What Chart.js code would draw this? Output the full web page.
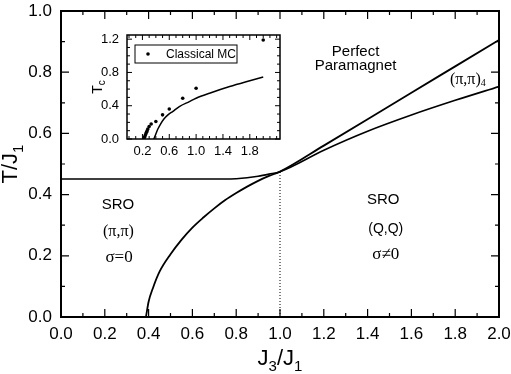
<!DOCTYPE html>
<html><head><meta charset="utf-8">
<script src="https://cdn.jsdelivr.net/npm/chart.js@4"></script>
<style>
html,body{margin:0;padding:0;background:#fff;}
#wrap{position:relative;width:511px;height:374px;overflow:hidden;}
#main{position:absolute;left:0;top:0;}
#inset{position:absolute;left:88px;top:20px;}
</style></head><body>
<div id="wrap"><canvas id="main" width="511" height="374"></canvas><canvas id="inset" width="200" height="140"></canvas></div>
<script>
const SANS = '"Liberation Sans", Arial, Helvetica, sans-serif';
const SERIF = '"Liberation Serif", "Times New Roman", serif';

// ---- main chart data ----
const X_TICKS = [0, 0.2, 0.4, 0.6, 0.8, 1.0, 1.2, 1.4, 1.6, 1.8, 2.0];
const X_MINOR = [0.1, 0.3, 0.5, 0.7, 0.9, 1.1, 1.3, 1.5, 1.7, 1.9];
const Y_TICKS = [0, 0.2, 0.4, 0.6, 0.8, 1.0];
const Y_MINOR = [0.1, 0.3, 0.5, 0.7, 0.9];

// flat SRO boundary, then lower branch above J3/J1 = 1
const flatX = [0, 0.2, 0.4, 0.6, 0.7, 0.75, 0.8, 0.85, 0.9, 0.95, 1.0, 1.2, 1.4, 1.6, 1.8, 2.0];
const flatY = [0.451, 0.451, 0.451, 0.451, 0.451, 0.451, 0.452, 0.455, 0.46, 0.467, 0.475, 0.545, 0.607, 0.66, 0.708, 0.753];
// steep boundary from T=0, then upper branch
const steepX = [0.388, 0.40, 0.42, 0.45, 0.50, 0.55, 0.60, 0.65, 0.70, 0.75, 0.80, 0.85, 0.90, 0.95, 1.0, 1.2, 1.4, 1.6, 1.8, 2.0];
const steepY = [0, 0.05, 0.095, 0.148, 0.205, 0.252, 0.292, 0.325, 0.355, 0.382, 0.405, 0.426, 0.445, 0.461, 0.475, 0.56, 0.646, 0.733, 0.819, 0.905];
// dotted vertical guide
const guideX = [1.0, 1.0];
const guideY = [0, 0.475];

// ---- inset data ----
const IN_X_TICKS = [0.2, 0.6, 1.0, 1.4, 1.8];
const IN_X_MINOR = [0, 0.1, 0.3, 0.4, 0.5, 0.7, 0.8, 0.9, 1.1, 1.2, 1.3, 1.5, 1.6, 1.7, 1.9, 2.0, 2.1, 2.2];
const IN_Y_TICKS = [0, 0.4, 0.8, 1.2];
const IN_Y_MINOR = [0.1, 0.2, 0.3, 0.5, 0.6, 0.7, 0.9, 1.0, 1.1];
const mcX = [0.22, 0.23, 0.24, 0.25, 0.26, 0.27, 0.28, 0.30, 0.33, 0.40, 0.50, 0.60, 0.80, 1.00, 2.00];
const mcY = [0.00, 0.02, 0.04, 0.06, 0.08, 0.10, 0.12, 0.15, 0.18, 0.21, 0.29, 0.36, 0.49, 0.61, 1.19];
const tcX = [0.37, 0.40, 0.43, 0.47, 0.52, 0.58, 0.65, 0.75, 0.9, 1.0, 1.2, 1.5, 1.8, 2.0];
const tcY = [0, 0.06, 0.12, 0.18, 0.24, 0.29, 0.33, 0.39, 0.45, 0.49, 0.55, 0.63, 0.70, 0.745];

const pts = (xs, ys) => xs.map((x, i) => ({x, y: ys[i]}));

function richText(ctx, parts, x, y, align, baseline) {
  ctx.textBaseline = baseline || 'middle';
  ctx.textAlign = 'left';
  let w = 0;
  parts.forEach(p => { ctx.font = p.font; p.w = ctx.measureText(p.t).width; w += p.w; });
  let cx = align === 'center' ? x - w / 2 : (align === 'right' ? x - w : x);
  parts.forEach(p => { ctx.font = p.font; ctx.fillText(p.t, cx, y + (p.dy || 0)); cx += p.w; });
}

function drawTicks(ctx, a, xs, ys, vals, len, isX) {
  vals.forEach(v => {
    if (isX) {
      const px = xs.getPixelForValue(v);
      ctx.moveTo(px, a.bottom); ctx.lineTo(px, a.bottom - len);
      ctx.moveTo(px, a.top); ctx.lineTo(px, a.top + len);
    } else {
      const py = ys.getPixelForValue(v);
      ctx.moveTo(a.left, py); ctx.lineTo(a.left + len, py);
      ctx.moveTo(a.right, py); ctx.lineTo(a.right - len, py);
    }
  });
}

const fitX = h => s => { s.height = h; s.paddingLeft = 0; s.paddingRight = 0; };
const fitY = w => s => { s.width = w; s.paddingTop = 0; s.paddingBottom = 0; };

const mainPlugin = {
  id: 'mainDecor',
  afterDraw(chart) {
    const {ctx, chartArea: a, scales: {x, y}} = chart;
    ctx.save();
    ctx.strokeStyle = '#000';
    ctx.fillStyle = '#000';
    ctx.lineWidth = 2;
    ctx.strokeRect(a.left, a.top, a.right - a.left, a.bottom - a.top);
    ctx.lineWidth = 1.2;
    ctx.beginPath();
    drawTicks(ctx, a, x, y, X_TICKS, 8, true);
    drawTicks(ctx, a, x, y, X_MINOR, 4, true);
    drawTicks(ctx, a, x, y, Y_TICKS, 8, false);
    drawTicks(ctx, a, x, y, Y_MINOR, 4, false);
    ctx.stroke();

    const P = (vx, vy) => [x.getPixelForValue(vx), y.getPixelForValue(vy)];
    const f15 = '15px ' + SANS, f14 = '14px ' + SANS, s16 = '16px ' + SERIF, s17 = '17px ' + SERIF;
    let p;
    p = P(1.345, 0.866); richText(ctx, [{t: 'Perfect', font: f15}], p[0], p[1], 'center');
    p = P(1.345, 0.822); richText(ctx, [{t: 'Paramagnet', font: f15}], p[0], p[1], 'center');
    p = P(1.776, 0.775); richText(ctx, [{t: '(\u03c0,\u03c0)', font: s16}, {t: '4', font: '10px ' + SERIF, dy: 4}], p[0], p[1], 'left');
    p = P(0.26, 0.366); richText(ctx, [{t: 'SRO', font: f15}], p[0], p[1], 'center');
    p = P(0.262, 0.279); richText(ctx, [{t: '(\u03c0,\u03c0)', font: s16}], p[0], p[1], 'center');
    p = P(0.265, 0.193); richText(ctx, [{t: '\u03c3=0', font: s17}], p[0], p[1], 'center');
    p = P(1.471, 0.382); richText(ctx, [{t: 'SRO', font: f15}], p[0], p[1], 'center');
    p = P(1.483, 0.288); richText(ctx, [{t: '(Q,Q)', font: f14}], p[0], p[1], 'center');
    p = P(1.483, 0.204); richText(ctx, [{t: '\u03c3\u22600', font: s17}], p[0], p[1], 'center');

    // axis titles
    const t22 = '22px ' + SANS, t15 = '15px ' + SANS;
    richText(ctx, [{t: 'J', font: t22}, {t: '3', font: t15, dy: 6}, {t: '/J', font: t22}, {t: '1', font: t15, dy: 6}],
      (a.left + a.right) / 2, 365, 'center', 'alphabetic');
    ctx.translate(17, (a.top + a.bottom) / 2);
    ctx.rotate(-Math.PI / 2);
    richText(ctx, [{t: 'T/J', font: t22}, {t: '1', font: t15, dy: 6}], 0, 0, 'center', 'alphabetic');
    ctx.restore();
  }
};

new Chart(document.getElementById('main'), {
  type: 'scatter',
  data: {
    datasets: [
      {data: pts(flatX, flatY), showLine: true, borderColor: '#000', borderWidth: 1.6, pointRadius: 0, cubicInterpolationMode: 'monotone', fill: false},
      {data: pts(steepX, steepY), showLine: true, borderColor: '#000', borderWidth: 1.8, pointRadius: 0, cubicInterpolationMode: 'monotone', fill: false},
      {data: pts(guideX, guideY), showLine: true, borderColor: '#000', borderWidth: 1, borderDash: [1, 2], pointRadius: 0, fill: false}
    ]
  },
  options: {
    responsive: false, animation: false, devicePixelRatio: 1,
    layout: {padding: {top: 11, right: 12, left: 0, bottom: 0}},
    plugins: {legend: {display: false}, tooltip: {enabled: false}},
    scales: {
      x: {
        type: 'linear', min: 0, max: 2.0,
        afterBuildTicks: s => { s.ticks = X_TICKS.map(v => ({value: v})); },
        afterFit: fitX(57),
        grid: {display: false, drawTicks: false}, border: {display: false},
        ticks: {color: '#000', font: {family: SANS, size: 17}, padding: 7, autoSkip: false, maxRotation: 0, callback: v => Number(v).toFixed(1)}
      },
      y: {
        type: 'linear', min: 0, max: 1.0,
        afterBuildTicks: s => { s.ticks = Y_TICKS.map(v => ({value: v})); },
        afterFit: fitY(61),
        grid: {display: false, drawTicks: false}, border: {display: false},
        ticks: {color: '#000', font: {family: SANS, size: 17}, padding: 9, autoSkip: false, callback: v => Number(v).toFixed(1)}
      }
    }
  },
  plugins: [mainPlugin]
});

const insetPlugin = {
  id: 'insetDecor',
  beforeDraw(chart) {
    const {ctx, chartArea: a} = chart;
    ctx.save(); ctx.fillStyle = '#fff';
    ctx.fillRect(a.left, a.top, a.right - a.left, a.bottom - a.top);
    ctx.restore();
  },
  afterDraw(chart) {
    const {ctx, chartArea: a, scales: {x, y}} = chart;
    ctx.save();
    ctx.strokeStyle = '#000'; ctx.fillStyle = '#000';
    ctx.lineWidth = 1.5;
    ctx.strokeRect(a.left, a.top, a.right - a.left, a.bottom - a.top);
    ctx.lineWidth = 1;
    ctx.beginPath();
    drawTicks(ctx, a, x, y, IN_X_TICKS, 5, true);
    drawTicks(ctx, a, x, y, IN_X_MINOR, 3, true);
    drawTicks(ctx, a, x, y, IN_Y_TICKS, 5, false);
    drawTicks(ctx, a, x, y, IN_Y_MINOR, 3, false);
    ctx.stroke();
    // legend
    const bx = a.left + 8, by = a.top + 10, bw = 102, bh = 18;
    ctx.lineWidth = 1;
    ctx.strokeRect(bx, by, bw, bh);
    ctx.beginPath(); ctx.arc(bx + 13, by + bh / 2, 1.8, 0, Math.PI * 2); ctx.fill();
    richText(ctx, [{t: 'Classical MC', font: '12px ' + SANS}], bx + 31, by + bh / 2 + 0.5, 'left');
    // y title
    ctx.translate(14, (a.top + a.bottom) / 2);
    ctx.rotate(-Math.PI / 2);
    richText(ctx, [{t: 'T', font: '14px ' + SANS}, {t: 'c', font: '10px ' + SANS, dy: 3}], 0, 0, 'center', 'alphabetic');
    ctx.restore();
  }
};

new Chart(document.getElementById('inset'), {
  type: 'scatter',
  data: {
    datasets: [
      {data: pts(tcX, tcY), showLine: true, borderColor: '#000', borderWidth: 1.5, pointRadius: 0, cubicInterpolationMode: 'monotone', fill: false},
      {data: pts(mcX, mcY), showLine: false, backgroundColor: '#000', borderColor: '#000', pointRadius: 1.8, borderWidth: 0}
    ]
  },
  options: {
    responsive: false, animation: false, devicePixelRatio: 1,
    layout: {padding: {top: 15, right: 8, left: 0, bottom: 0}},
    plugins: {legend: {display: false}, tooltip: {enabled: false}},
    scales: {
      x: {
        type: 'linear', min: -0.03, max: 2.25,
        afterBuildTicks: s => { s.ticks = IN_X_TICKS.map(v => ({value: v})); },
        afterFit: fitX(21),
        grid: {display: false, drawTicks: false}, border: {display: false},
        ticks: {color: '#000', font: {family: SANS, size: 13}, padding: 5, autoSkip: false, maxRotation: 0, callback: v => Number(v).toFixed(1)}
      },
      y: {
        type: 'linear', min: 0, max: 1.25,
        afterBuildTicks: s => { s.ticks = IN_Y_TICKS.map(v => ({value: v})); },
        afterFit: fitY(39),
        grid: {display: false, drawTicks: false}, border: {display: false},
        ticks: {color: '#000', font: {family: SANS, size: 13}, padding: 8, autoSkip: false, callback: v => Number(v).toFixed(1)}
      }
    }
  },
  plugins: [insetPlugin]
});
</script>
</body></html>
